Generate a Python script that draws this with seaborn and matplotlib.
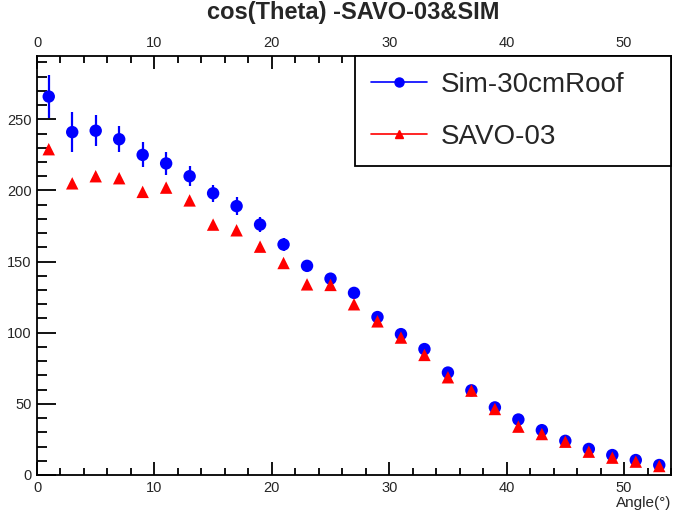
import matplotlib
matplotlib.use("Agg")
import matplotlib.pyplot as plt
import seaborn as sns
import pandas as pd
from matplotlib.lines import Line2D
from matplotlib.ticker import MultipleLocator

# ---- data ----
angle = [1, 3, 5, 7, 9, 11, 13, 15, 17, 19, 21, 23, 25, 27,
         29, 31, 33, 35, 37, 39, 41, 43, 45, 47, 49, 51, 53]
sim = [266, 241, 242, 236, 225, 219, 210, 198, 189, 176, 162, 147, 138, 128,
       111, 99, 88.5, 72, 59.5, 47.5, 39, 31.5, 24, 18.3, 14, 10.5, 7]
sim_err = [14.9, 14.3, 10.8, 9.1, 8.8, 7.9, 7.0, 6.1, 6.6, 5.5, 4.7, 4.2, 4.0, 3.8,
           3.5, 3.3, 3.1, 2.8, 2.6, 2.3, 2.1, 1.9, 1.7, 1.5, 1.3, 1.1, 0.9]
savo = [229, 205, 210, 208.6, 199, 202, 193, 176, 172, 160.5, 149, 134, 133.6, 120,
        108, 96.6, 84.4, 68.7, 59.3, 46.4, 34, 28.8, 23.4, 16.4, 12.2, 9.4, 6.3]
labels = ["Sim-30cmRoof", "SAVO-03"]
title = "cos(Theta) -SAVO-03&SIM"
xlabel = "Angle(°)"

df = pd.DataFrame({"angle": angle * 2,
                   "count": sim + savo,
                   "series": [labels[0]] * len(angle) + [labels[1]] * len(angle)})

sns.set_style("white")
plt.rcParams["font.family"] = ["Liberation Sans", "DejaVu Sans"]

fig = plt.figure(figsize=(6.81, 5.17), dpi=100)
ax = fig.add_axes([37 / 681, 42 / 517, 634 / 681, 419 / 517])

blue = (0, 0, 1)
red = (1, 0, 0)

ax.errorbar(angle, sim, yerr=sim_err, fmt="none", ecolor=blue, elinewidth=1.6,
            capsize=0, zorder=2)
sns.scatterplot(data=df, x="angle", y="count", hue="series", style="series",
                markers={labels[0]: "o", labels[1]: "^"},
                palette={labels[0]: blue, labels[1]: red},
                s=80, linewidth=0, ax=ax, legend=False, zorder=3)

ax.set_xlim(0, 54)
ax.set_ylim(0, 294.5)
ax.set_xlabel("")
ax.set_ylabel("")

for side in ["left", "bottom", "top", "right"]:
    ax.spines[side].set_visible(True)
    ax.spines[side].set_color("black")
    ax.spines[side].set_linewidth(1.3)

ax.xaxis.set_major_locator(MultipleLocator(10))
ax.xaxis.set_minor_locator(MultipleLocator(2))
ax.yaxis.set_major_locator(MultipleLocator(50))
ax.yaxis.set_minor_locator(MultipleLocator(10))

ax.tick_params(axis="x", which="both", direction="in", top=True, bottom=True,
               labeltop=True, labelbottom=True, labelsize=10.5, width=1.3, pad=4,
               color="black")
ax.tick_params(axis="x", which="major", length=9.5)
ax.tick_params(axis="x", which="minor", length=5)
ax.tick_params(axis="y", which="both", direction="in", left=True, right=False,
               labelsize=10.5, width=1.3, pad=4, color="black")
ax.tick_params(axis="y", which="major", length=13.5)
ax.tick_params(axis="y", which="minor", length=7)

fig.text(353 / 681, 1 - 13 / 517, title, ha="center", va="center",
         fontsize=17, fontweight="bold")
ax.text(1.0, -0.067, xlabel, transform=ax.transAxes, ha="right", va="center",
        fontsize=11)

handles = [Line2D([], [], color=blue, marker="o", markersize=6.5, lw=1.2),
           Line2D([], [], color=red, marker="^", markersize=6, lw=1.2)]
leg = ax.legend(handles, labels, loc="upper left",
                bbox_to_anchor=(318 / 634, 0.7446, 316 / 634, 1 - 0.7446),
                mode="expand", borderaxespad=0, fontsize=20, handlelength=2.0,
                handletextpad=0.5, borderpad=0.58, labelspacing=0.93,
                fancybox=False, frameon=True, framealpha=1)
leg.get_frame().set_edgecolor("black")
leg.get_frame().set_linewidth(1.3)

fig.savefig("out.png", dpi=100)
